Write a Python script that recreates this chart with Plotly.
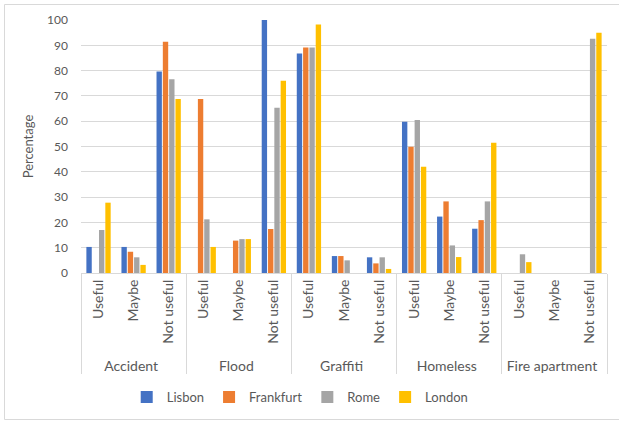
import plotly.graph_objects as go

groups = ["Accident", "Flood", "Graffiti", "Homeless", "Fire apartment"]
responses = ["Useful", "Maybe", "Not useful"]
cities = ["Lisbon", "Frankfurt", "Rome", "London"]
colors = ["#4472C4", "#ED7D31", "#A5A5A5", "#FFC000"]

lisbon = [10.3, 10.3, 79.6, 0, 0, 100, 86.8, 6.7, 6.2, 59.8, 22.3, 17.5, 0, 0, 0]
frankfurt = [0, 8.4, 91.4, 68.8, 12.8, 17.4, 89.1, 6.7, 3.8, 49.9, 28.3, 20.9, 0, 0, 0]
rome = [17.0, 6.2, 76.6, 21.2, 13.4, 65.3, 89.1, 5.0, 6.2, 60.5, 10.9, 28.3, 7.4, 0, 92.6]
london = [27.8, 3.2, 68.8, 10.3, 13.4, 76.0, 98.2, 0, 1.6, 42.0, 6.3, 51.5, 4.3, 0, 95.0]
values = [lisbon, frankfurt, rome, london]

xg = [g for g in groups for r in responses]
xr = [r for g in groups for r in responses]

FONT = "Lato"
TXT = "#595959"
GRID = "#D9D9D9"

fig = go.Figure()
for name, col, vals in zip(cities, colors, values):
    fig.add_trace(go.Bar(x=[xg, xr], y=vals, name=name, marker_color=col,
                         marker_line_width=0))

fig.update_layout(
    width=619, height=421,
    margin=dict(l=81, r=12, t=20, b=148),
    paper_bgcolor="white", plot_bgcolor="white",
    barmode="group", bargap=0.28, bargroupgap=0.15,
    font=dict(family=FONT, size=12, color=TXT),
    legend=dict(orientation="h", xref="container", x=0.485, xanchor="center",
                yref="container", y=0.057, yanchor="middle",
                font=dict(size=13, color=TXT), itemwidth=30,
                traceorder="normal"),
    showlegend=True,
)
fig.update_xaxes(type="multicategory", tickangle=-90, showgrid=False,
                 showline=True, linecolor=GRID, linewidth=1,
                 showdividers=True, dividercolor=GRID, dividerwidth=1,
                 ticks="", tickfont=dict(size=14, color=TXT), automargin=False)
fig.update_yaxes(range=[0, 100], dtick=10, showgrid=True, gridcolor=GRID,
                 gridwidth=1, zeroline=False, showline=False, automargin=False,
                 title=dict(text="Percentage", font=dict(size=13, color=TXT), standoff=10),
                 tickfont=dict(size=12, color=TXT), ticklabelstandoff=12)

fig.add_shape(type="rect", xref="paper", yref="paper",
              x0=-0.1454, x1=1.03, y0=-0.579, y1=1.0613,
              line=dict(color=GRID, width=1), fillcolor="rgba(0,0,0,0)", layer="below")

fig.write_html("out.html")
